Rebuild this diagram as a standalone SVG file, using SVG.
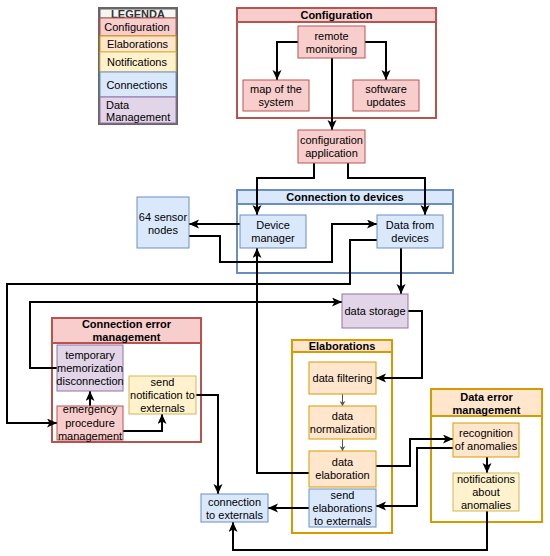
<svg xmlns="http://www.w3.org/2000/svg" width="550" height="556" viewBox="0 0 550 556">
<defs>
<style>
text{font-family:"Liberation Sans",Arial,Helvetica,sans-serif;font-size:11px;fill:#000;text-anchor:middle}
.b{font-weight:bold}
.l{text-anchor:start}
.cfg{fill:#f8cecc;stroke:#b85450;stroke-width:1}
.ela{fill:#ffe6cc;stroke:#d79b00;stroke-width:1}
.ntf{fill:#fff2cc;stroke:#d6b656;stroke-width:1}
.con{fill:#dae8fc;stroke:#6c8ebf;stroke-width:1}
.dat{fill:#e1d5e7;stroke:#9673a6;stroke-width:1}
.cfgC{fill:#fff;stroke:#b85450;stroke-width:2}
.elaC{fill:#fff;stroke:#d79b00;stroke-width:2}
.conC{fill:#fff;stroke:#6c8ebf;stroke-width:2}
.cfgH{fill:#f8cecc;stroke:#b85450;stroke-width:2}
.elaH{fill:#ffe6cc;stroke:#d79b00;stroke-width:2}
.conH{fill:#dae8fc;stroke:#6c8ebf;stroke-width:2}
.e{fill:none;stroke:#000;stroke-width:2;marker-end:url(#a)}
.t{fill:none;stroke:#555;stroke-width:1;marker-end:url(#s)}
</style>
<marker id="a" markerUnits="userSpaceOnUse" markerWidth="12" markerHeight="10" refX="10" refY="4.5" orient="auto">
<path d="M0,0 L10,4.5 L0,9 L2.5,4.5 Z" fill="#000"/>
</marker>
<marker id="s" markerUnits="userSpaceOnUse" markerWidth="8" markerHeight="8" refX="5" refY="3" orient="auto">
<path d="M0,0 L5,3 L0,6 L1.5,3 Z" fill="#555"/>
</marker>
</defs>
<rect width="550" height="556" fill="#fff"/>

<g id="legend">
<rect x="99" y="8" width="78" height="116" fill="#fff" stroke="#666" stroke-width="2"/>
<rect x="100" y="9" width="76" height="9" fill="#f5f5f5" stroke="#666" stroke-width="1"/>
<text x="138" y="17.5" class="b" style="fill:#333">LEGENDA</text>
<rect x="100" y="18" width="76" height="18" class="cfg"/>
<text x="137" y="31">Configuration</text>
<rect x="100" y="36" width="76" height="16" class="ela"/>
<text x="137.5" y="48">Elaborations</text>
<rect x="100" y="52" width="76" height="20" class="ntf"/>
<text x="137" y="66">Notifications</text>
<rect x="100" y="72" width="76" height="25" class="con"/>
<text x="137" y="89">Connections</text>
<rect x="100" y="97" width="76" height="26" class="dat"/>
<text x="106" y="109" class="l">Data</text>
<text x="106" y="121" class="l">Management</text>
</g>

<g id="containers">
<g id="configuration">
<rect x="237" y="8" width="199" height="110" class="cfgC"/>
<rect x="237" y="8" width="199" height="14" class="cfgH"/>
<text x="336.5" y="19" class="b">Configuration</text>
</g>
<g id="connection-to-devices">
<rect x="237" y="190" width="216" height="83" class="conC"/>
<rect x="237" y="190" width="216" height="14" class="conH"/>
<text x="345" y="201" class="b">Connection to devices</text>
</g>
<g id="connection-error-management">
<rect x="52" y="318" width="149" height="124" class="cfgC"/>
<rect x="52" y="318" width="149" height="25" class="cfgH"/>
<text x="126.5" y="328" class="b">Connection error</text>
<text x="126.5" y="341" class="b">management</text>
</g>
<g id="elaborations">
<rect x="292" y="340" width="100" height="193" class="elaC"/>
<rect x="292" y="340" width="100" height="12" class="elaH"/>
<text x="342" y="350" class="b">Elaborations</text>
</g>
<g id="data-error-management">
<rect x="431" y="389" width="111" height="133" class="elaC"/>
<rect x="431" y="389" width="111" height="27" class="elaH"/>
<text x="486.5" y="401" class="b">Data error</text>
<text x="486.5" y="414" class="b">management</text>
</g>
</g>

<g id="connectors">
<path class="e" d="M298,42 H277 V80"/>
<path class="e" d="M365,42 H386 V80"/>
<path class="e" d="M332,58 V130"/>
<path class="e" d="M314,163 V178 H257 V215"/>
<path class="e" d="M348,163 V178 H425 V215"/>
<path class="e" d="M240,224 H189"/>
<path class="e" d="M189,236 H220 V262 H332 V224 H377"/>
<path class="e" d="M377,240 H350 V284 H7 V423 H57"/>
<path class="e" d="M401,248 V294"/>
<path class="e" d="M57,368 H30 V302 H342"/>
<path class="e" d="M309,473 H257 V248"/>
<path class="e" d="M408,311 H422 V378 H376"/>
<path class="t" d="M342.5,394 V406"/>
<path class="t" d="M342.5,439 V451"/>
<path class="e" d="M376,466 H410 V439 H453"/>
<path class="e" d="M453,448 H417 V506 H376"/>
<path class="e" d="M487,457 V473"/>
<path class="e" d="M487,511 V550 H233 V522"/>
<path class="e" d="M309,508 H268"/>
<path class="e" d="M196,395 H218 V494"/>
<path class="e" d="M90,406 V391"/>
<path class="e" d="M123,431 H162 V414"/>
</g>

<g id="remote-monitoring"><rect x="298" y="26" width="67" height="32" class="cfg"/><text x="331.5" y="39.5">remote</text><text x="331.5" y="52.5">monitoring</text></g>
<g id="map-of-the-system"><rect x="243" y="80" width="66" height="31" class="cfg"/><text x="276" y="93">map of the</text><text x="276" y="106">system</text></g>
<g id="software-updates"><rect x="353" y="80" width="66" height="31" class="cfg"/><text x="386" y="93">software</text><text x="386" y="106">updates</text></g>
<g id="configuration-application"><rect x="298" y="130" width="67" height="33" class="cfg"/><text x="331.5" y="144">configuration</text><text x="331.5" y="157">application</text></g>
<g id="sensor-nodes"><rect x="137" y="197" width="52" height="51" class="con"/><text x="163" y="221">64 sensor</text><text x="163" y="234">nodes</text></g>
<g id="device-manager"><rect x="240" y="215" width="66" height="33" class="con"/><text x="273" y="229">Device</text><text x="273" y="242">manager</text></g>
<g id="data-from-devices"><rect x="377" y="215" width="66" height="33" class="con"/><text x="410" y="229">Data from</text><text x="410" y="242">devices</text></g>
<g id="data-storage"><rect x="342" y="294" width="66" height="34" class="dat"/><text x="375" y="315">data storage</text></g>
<g id="temporary-memorization"><rect x="57" y="345" width="66" height="46" class="dat"/><text x="90" y="359">temporary</text><text x="90" y="372">memorization</text><text x="90" y="385">disconnection</text></g>
<g id="emergency-procedure"><rect x="57" y="406" width="66" height="34" class="cfg"/><text x="90" y="413">emergency</text><text x="90" y="426.5">procedure</text><text x="90" y="439.5">management</text></g>
<g id="send-notification"><rect x="129" y="376" width="67" height="38" class="ntf"/><text x="162.5" y="386">send</text><text x="162.5" y="399">notification to</text><text x="162.5" y="412">externals</text></g>
<g id="data-filtering"><rect x="309" y="362" width="67" height="32" class="ela"/><text x="342.5" y="382">data filtering</text></g>
<g id="data-normalization"><rect x="309" y="406" width="67" height="33" class="ela"/><text x="342.5" y="420">data</text><text x="342.5" y="433">normalization</text></g>
<g id="data-elaboration"><rect x="309" y="451" width="67" height="36" class="ela"/><text x="342.5" y="466">data</text><text x="342.5" y="479">elaboration</text></g>
<g id="send-elaborations"><rect x="309" y="489" width="67" height="38" class="con"/><text x="342.5" y="499">send</text><text x="342.5" y="512">elaborations</text><text x="342.5" y="525">to externals</text></g>
<g id="recognition-of-anomalies"><rect x="453" y="423" width="66" height="34" class="ela"/><text x="486" y="437">recognition</text><text x="486" y="450">of anomalies</text></g>
<g id="notifications-about-anomalies"><rect x="453" y="473" width="66" height="38" class="ntf"/><text x="486" y="483">notifications</text><text x="486" y="496">about</text><text x="486" y="509">anomalies</text></g>
<g id="connection-to-externals"><rect x="201" y="494" width="67" height="28" class="con"/><text x="234.5" y="506">connection</text><text x="234.5" y="519">to externals</text></g>
</svg>
